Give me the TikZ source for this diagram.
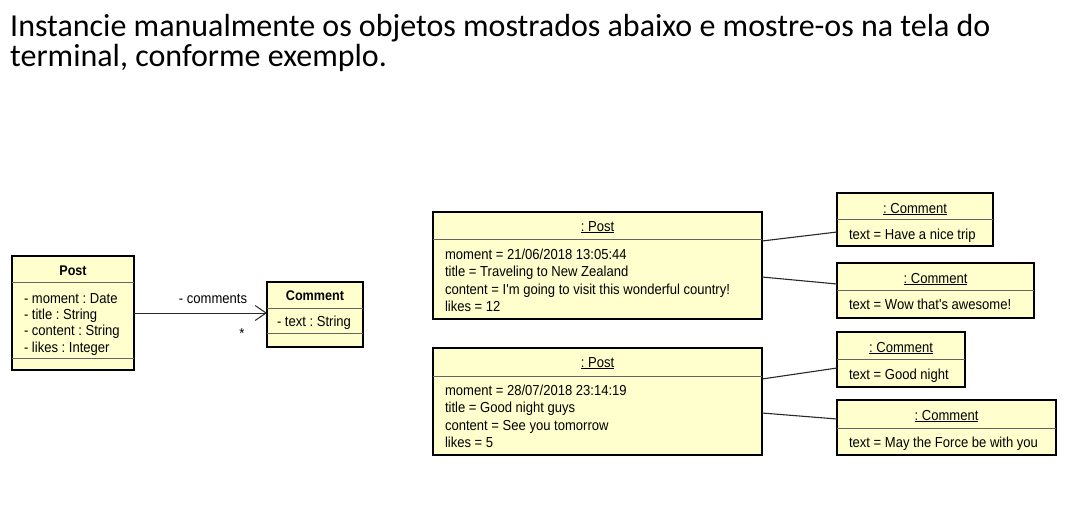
\documentclass[tikz,border=0pt]{standalone}
\usepackage{fontspec}
\setmainfont{Carlito}
\newfontfamily\umlfont[FakeStretch=0.9]{Liberation Sans}
\usetikzlibrary{calc,arrows.meta}
\definecolor{umlfill}{RGB}{255,255,206}
\definecolor{divgray}{RGB}{100,100,100}
\definecolor{linegray}{RGB}{40,40,40}
\frenchspacing
\begin{document}
\frenchspacing
\begin{tikzpicture}[x=1pt,y=-1pt,
  umlbox/.style={draw=black, line width=2.3pt, fill=umlfill, rectangle, inner sep=0pt, outer sep=0pt, anchor=north west},
  divider/.style={draw=divgray, line width=0.9pt},
  umltxt/.style={anchor=base west, inner sep=0pt, outer sep=0pt, font=\umlfont\frenchspacing\fontsize{14.5}{16}\selectfont},
  umlname/.style={anchor=base, inner sep=0pt, outer sep=0pt, font=\umlfont\frenchspacing\fontsize{14.5}{16}\selectfont},
  umlbold/.style={anchor=base, inner sep=0pt, outer sep=0pt, font=\umlfont\bfseries\fontsize{14}{16}\selectfont},
  link/.style={draw=linegray, line width=1.1pt},
  titletxt/.style={anchor=base west, inner sep=0pt, font=\fontsize{32}{36}\selectfont}
]
\useasboundingbox (0,0) rectangle (1069,504);

% title
\node[titletxt] (t1) at (10,36) {Instancie manualmente os objetos mostrados abaixo e mostre-os na tela do};
\node[titletxt] (t2) at (10,66) {terminal, conforme exemplo.};

% ---------- class diagram ----------
\node[umlbox, minimum width=122pt, minimum height=114pt] (pc) at (12,256) {};
\draw[divider] ($(pc.north west)+(0,26)$) -- ($(pc.north east)+(0,26)$);
\draw[divider] ($(pc.north west)+(0,102)$) -- ($(pc.north east)+(0,102)$);
\node[umlbold] (pcn) at (73,275) {Post};
\node[umltxt] (pca1) at (24,303) {- moment : Date};
\node[umltxt] (pca2) at (24,319) {- title : String};
\node[umltxt] (pca3) at (24,335.5) {- content : String};
\node[umltxt] (pca4) at (24,352) {- likes : Integer};

\node[umlbox, minimum width=96pt, minimum height=65pt] (cc) at (267,282) {};
\draw[divider] ($(cc.north west)+(0,26)$) -- ($(cc.north east)+(0,26)$);
\draw[divider] ($(cc.north west)+(0,51)$) -- ($(cc.north east)+(0,51)$);
\node[umlbold] (ccn) at (315,300.5) {Comment};
\node[umltxt] (cca1) at (277,326) {- text : String};

\draw[link, line width=0.9pt, -{Straight Barb[length=11pt,width=15pt,line width=1pt]}]
  ($(pc.north east)+(0,57)$) -- ($(cc.north west)+(0,31)$);
\node[umlname] (rl) at (213,303) {- comments};
\node[umlname] (rm) at (242,338) {*};

% ---------- object diagram ----------
% Post 1
\node[umlbox, minimum width=329pt, minimum height=107pt] (p1) at (433,212) {};
\draw[divider] ($(p1.north west)+(0,27)$) -- ($(p1.north east)+(0,27)$);
\node[umlname] (p1n) at (597.5,231) {\underline{: Post}};
\node[umltxt] (p1a1) at (445,259) {moment = 21/06/2018 13:05:44};
\node[umltxt] (p1a2) at (445,276.5) {title = Traveling to New Zealand};
\node[umltxt] (p1a3) at (445,294) {content = I'm going to visit this wonderful country!};
\node[umltxt] (p1a4) at (445,311.5) {likes = 12};

% Post 2
\node[umlbox, minimum width=329pt, minimum height=107pt] (p2) at (433,348) {};
\draw[divider] ($(p2.north west)+(0,28)$) -- ($(p2.north east)+(0,28)$);
\node[umlname] (p2n) at (597.5,367) {\underline{: Post}};
\node[umltxt] (p2a1) at (445,395) {moment = 28/07/2018 23:14:19};
\node[umltxt] (p2a2) at (445,412.5) {title = Good night guys};
\node[umltxt] (p2a3) at (445,430) {content = See you tomorrow};
\node[umltxt] (p2a4) at (445,447.5) {likes = 5};

% Comment 1
\node[umlbox, minimum width=156pt, minimum height=53pt] (c1) at (837,193) {};
\draw[divider] ($(c1.north west)+(0,26)$) -- ($(c1.north east)+(0,26)$);
\node[umlname] (c1n) at (915,213) {\underline{: Comment}};
\node[umltxt] (c1a) at (849,239) {text = Have a nice trip};

% Comment 2
\node[umlbox, minimum width=197pt, minimum height=55pt] (c2) at (837,263) {};
\draw[divider] ($(c2.north west)+(0,27)$) -- ($(c2.north east)+(0,27)$);
\node[umlname] (c2n) at (935.5,283) {\underline{: Comment}};
\node[umltxt] (c2a) at (849,309) {text = Wow that's awesome!};

% Comment 3
\node[umlbox, minimum width=128pt, minimum height=55pt] (c3) at (837,332) {};
\draw[divider] ($(c3.north west)+(0,27)$) -- ($(c3.north east)+(0,27)$);
\node[umlname] (c3n) at (901,352) {\underline{: Comment}};
\node[umltxt] (c3a) at (849,379) {text = Good night};

% Comment 4
\node[umlbox, minimum width=219pt, minimum height=55pt] (c4) at (837,400) {};
\draw[divider] ($(c4.north west)+(0,28)$) -- ($(c4.north east)+(0,28)$);
\node[umlname] (c4n) at (946.5,420) {\underline{: Comment}};
\node[umltxt] (c4a) at (849,447) {text = May the Force be with you};

% links
\draw[link] ($(p1.north east)+(0,29)$) -- ($(c1.north west)+(0,39)$);
\draw[link] ($(p1.north east)+(0,65)$) -- ($(c2.north west)+(0,21)$);
\draw[link] ($(p2.north east)+(0,31)$) -- ($(c3.north west)+(0,36)$);
\draw[link] ($(p2.north east)+(0,65)$) -- ($(c4.north west)+(0,19)$);
\end{tikzpicture}
\end{document}
